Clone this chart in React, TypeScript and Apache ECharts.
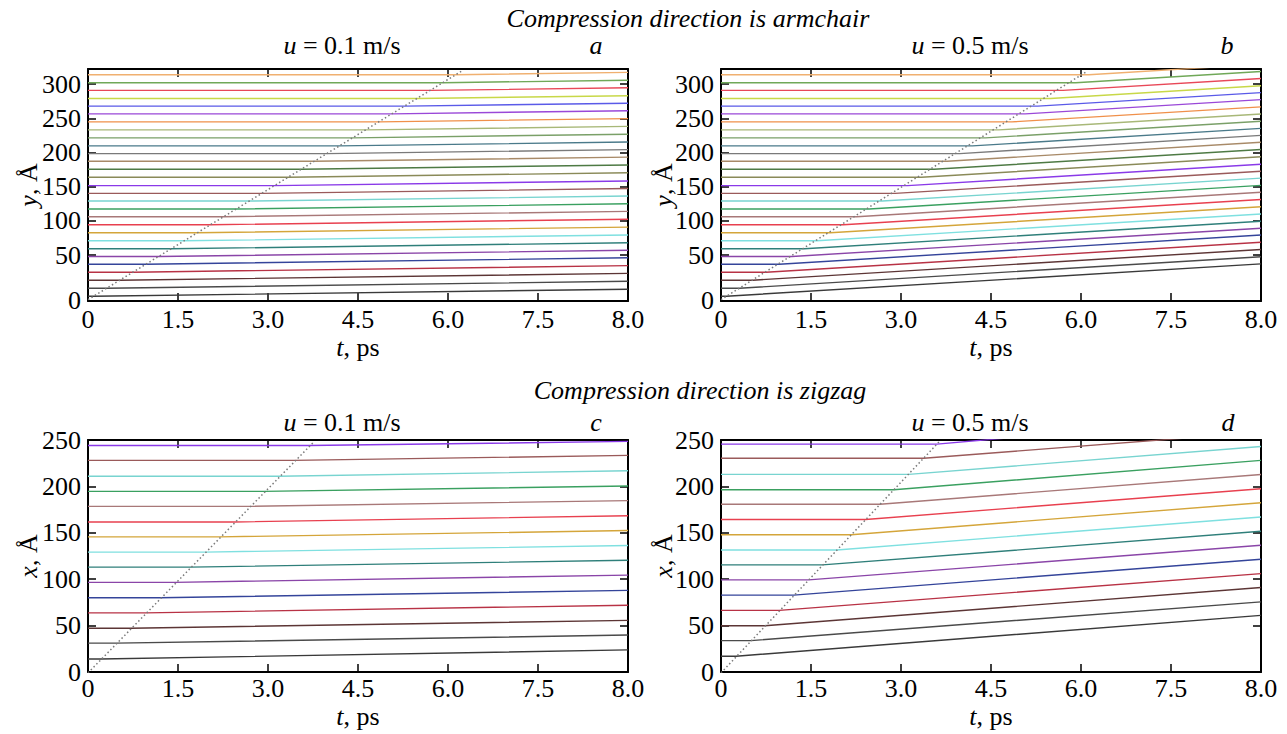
import React, { useEffect, useRef } from "react";
import * as echarts from "echarts";

// ---------- data ----------
// x axis: positions of the tick marks and their printed labels
const xTickValues = [0, 1.5, 3, 4.5, 6, 7.5, 9];
const xTickLabels = ["0", "1.5", "3.0", "4.5", "6.0", "7.5", "8.0"];

// armchair (panels a, b): 29 atom rows
const armStartY = [-10, 1.7, 13.4, 25.1, 36.8, 48, 59.3, 71, 82.7, 94.4, 106.2, 117.4, 129.1, 140.3, 151.6, 163.8, 175.5, 187.2, 198.4, 209.7, 221.4, 233.1, 244.8, 256.5, 267.8, 279, 290.7, 302, 313.7];
const armBreakT = [0.09, 0.31, 0.53, 0.75, 0.97, 1.18, 1.39, 1.6, 1.82, 2.04, 2.26, 2.47, 2.69, 2.9, 3.11, 3.34, 3.55, 3.77, 3.98, 4.19, 4.41, 4.63, 4.85, 5.07, 5.28, 5.49, 5.7, 5.91, 6.13];
const armEndYSlow = [0.2, 11.8, 23.3, 34.7, 46.1, 57.1, 68.1, 79.5, 91, 102.5, 114, 125, 136.4, 147.3, 158.4, 170.4, 181.8, 193.2, 204.2, 215.3, 226.7, 238.1, 249.5, 261, 272, 283, 294.5, 305.5, 317];
const armEndYFast = [37.2, 47.7, 58.3, 68.8, 79.4, 89.4, 99.6, 110.2, 120.7, 131.3, 141.9, 152, 162.5, 172.6, 182.8, 193.8, 204.3, 214.9, 225, 235.2, 245.7, 256.2, 266.7, 277.3, 287.5, 297.5, 308.2, 318.4, 329];
const armFrontSlow = [[0, -15], [6.22, 318.5]];
const armFrontFast = [[0, -15], [6.1, 318.6]];

// zigzag (panels c, d): 15 atom rows
const zigStartYSlow = [14, 31.1, 47.2, 63.7, 80, 96.6, 113, 129.2, 145.6, 161.7, 178.5, 194.6, 211, 228, 244];
const zigBreakTSlow = [0.21, 0.47, 0.71, 0.96, 1.2, 1.45, 1.7, 1.95, 2.19, 2.44, 2.69, 2.93, 3.18, 3.43, 3.67];
const zigEndYSlow = [23.8, 39.8, 55.6, 72, 88, 104.4, 120.4, 136.3, 152.4, 168.4, 184.7, 200.5, 216.8, 233.4, 248.5];
const zigStartYFast = [17, 33.8, 49.9, 66.4, 82.8, 99.3, 115.4, 131.5, 147.9, 164.3, 180.7, 196.4, 213, 230.3, 245.6];
const zigBreakTFast = [0.25, 0.5, 0.73, 0.97, 1.21, 1.46, 1.69, 1.93, 2.17, 2.41, 2.65, 2.88, 3.13, 3.38, 3.6];
const zigEndYFast = [61, 75.6, 91, 106, 121.5, 136.6, 151.6, 167, 182.4, 197.5, 212.9, 228, 243, 258.4, 276];
const zigFrontSlow = [[0, -1], [3.75, 247]];
const zigFrontFast = [[0, -1], [3.64, 248.4]];

// y tick labels
const armYTicks = [50, 100, 150, 200, 250, 300];

const palette = [
  "#3a3a3a", "#4a4a4a", "#5c3535", "#b83245", "#34449a", "#8a45a8", "#2f7f7a", "#7fe0e0",
  "#d4a53a", "#e8404f", "#a87878", "#3aa060", "#78d4d0", "#9a5a5a", "#8a3ae8", "#8a8a58",
  "#4e7a44", "#a88a68", "#7a7a7a", "#4a7a8a", "#7aa068", "#a8b878", "#f0904a", "#9a48d8",
  "#5a5ae8", "#c8d848", "#e84858", "#70a858", "#f0b070",
];

const FONT = "'Liberation Serif', 'Times New Roman', Times, 'DejaVu Serif', serif";
const FS = 26;

const grids = [
  { left: 88, top: 69, width: 540, height: 232 },
  { left: 721, top: 69, width: 540, height: 232 },
  { left: 88, top: 440, width: 540, height: 232 },
  { left: 721, top: 440, width: 540, height: 232 },
];

function xFormatter(v: number) {
  const i = xTickValues.findIndex((t) => Math.abs(t - v) < 1e-6);
  return i >= 0 ? xTickLabels[i] : "";
}

function makeXAxes(g: number) {
  const base = {
    gridIndex: g,
    type: "value",
    min: 0,
    max: 9,
    interval: 1.5,
    axisLine: { show: true, onZero: false, lineStyle: { color: "#000", width: 2 } },
    axisTick: { show: true, inside: true, length: 8, lineStyle: { color: "#000", width: 1.5 } },
    splitLine: { show: false },
  };
  return [
    {
      ...base,
      position: "bottom",
      axisLabel: { color: "#000", fontSize: FS, fontFamily: FONT, margin: g < 2 ? 5 : 3, formatter: xFormatter },
    },
    { ...base, position: "top", axisLabel: { show: false } },
  ];
}

function makeYAxes(g: number, arm: boolean) {
  const base: any = {
    gridIndex: g,
    type: "value",
    axisLine: { show: true, onZero: false, lineStyle: { color: "#000", width: 2 } },
    splitLine: { show: false },
  };
  if (arm) {
    base.min = -17;
    base.max = 322;
    base.axisTick = { show: true, inside: true, length: 8, lineStyle: { color: "#000", width: 1.5 }, customValues: armYTicks };
  } else {
    base.min = 0;
    base.max = 250;
    base.interval = 50;
    base.axisTick = { show: true, inside: true, length: 8, lineStyle: { color: "#000", width: 1.5 } };
  }
  const label: any = { color: "#000", fontSize: FS, fontFamily: FONT, margin: 7 };
  if (arm) {
    label.customValues = [-16, ...armYTicks];
    label.formatter = (v: number) => (v < 0 ? "0" : String(v));
  }
  return [
    { ...base, position: "left", axisLabel: label },
    { ...base, position: "right", axisLabel: { show: false } },
  ];
}

function panelSeries(g: number, startY: number[], breakT: number[], endY: number[], front: number[][]) {
  const s: any[] = startY.map((y0, k) => ({
    type: "line",
    xAxisIndex: g * 2,
    yAxisIndex: g * 2,
    data: [[0, y0], [breakT[k], y0], [9, endY[k]]],
    showSymbol: false,
    symbol: "none",
    silent: true,
    clip: true,
    lineStyle: { color: palette[k], width: 1.4 },
  }));
  s.push({
    type: "line",
    xAxisIndex: g * 2,
    yAxisIndex: g * 2,
    data: front,
    showSymbol: false,
    symbol: "none",
    silent: true,
    clip: true,
    z: 5,
    lineStyle: { color: "#7a7a7a", width: 1.5, type: [1.5, 2.5] },
  });
  return s;
}

function txt(x: number, y: number, text: string, opts: any = {}) {
  return {
    type: "text",
    x,
    y,
    rotation: opts.rotation || 0,
    style: {
      text,
      fill: "#000",
      fontSize: FS,
      fontFamily: FONT,
      fontStyle: opts.italic ? "italic" : "normal",
      align: "center",
      verticalAlign: "middle",
      textAlign: "center",
      textVerticalAlign: "middle",
      rich: { i: { fontStyle: "italic", fontSize: FS, fontFamily: FONT, fill: "#000" } },
    },
  };
}

export default function App() {
  const ref = useRef<HTMLDivElement>(null);
  useEffect(() => {
    if (!ref.current) return;
    const chart = echarts.init(ref.current, null, { renderer: "svg" });
    const xAxis = [0, 1, 2, 3].flatMap((g) => makeXAxes(g));
    const yAxis = [0, 1, 2, 3].flatMap((g) => makeYAxes(g, g < 2));
    const series = [
      ...panelSeries(0, armStartY, armBreakT, armEndYSlow, armFrontSlow),
      ...panelSeries(1, armStartY, armBreakT, armEndYFast, armFrontFast),
      ...panelSeries(2, zigStartYSlow, zigBreakTSlow, zigEndYSlow, zigFrontSlow),
      ...panelSeries(3, zigStartYFast, zigBreakTFast, zigEndYFast, zigFrontFast),
    ];
    const graphic = [
      txt(688, 18, "Compression direction is armchair", { italic: true }),
      txt(342, 45, "{i|u} = 0.1 m/s"),
      txt(596, 45, "a", { italic: true }),
      txt(970, 45, "{i|u} = 0.5 m/s"),
      txt(1227, 45, "b", { italic: true }),
      txt(700, 390, "Compression direction is zigzag", { italic: true }),
      txt(342, 422, "{i|u} = 0.1 m/s"),
      txt(596, 422, "c", { italic: true }),
      txt(970, 422, "{i|u} = 0.5 m/s"),
      txt(1228, 422, "d", { italic: true }),
      txt(358, 347, "{i|t}, ps"),
      txt(991, 347, "{i|t}, ps"),
      txt(358, 716, "{i|t}, ps"),
      txt(991, 716, "{i|t}, ps"),
      txt(28, 185, "{i|y}, Å", { rotation: Math.PI / 2 }),
      txt(663, 185, "{i|y}, Å", { rotation: Math.PI / 2 }),
      txt(28, 556, "{i|x}, Å", { rotation: Math.PI / 2 }),
      txt(663, 556, "{i|x}, Å", { rotation: Math.PI / 2 }),
    ];
    chart.setOption({
      animation: false,
      backgroundColor: "#fff",
      grid: grids.map((g) => ({ ...g, containLabel: false })),
      xAxis,
      yAxis,
      series,
      graphic,
    });
    return () => chart.dispose();
  }, []);
  return (
    <div
      ref={ref}
      style={{ position: "fixed", left: 0, top: 0, width: 1287, height: 734, background: "#fff" }}
    />
  );
}
